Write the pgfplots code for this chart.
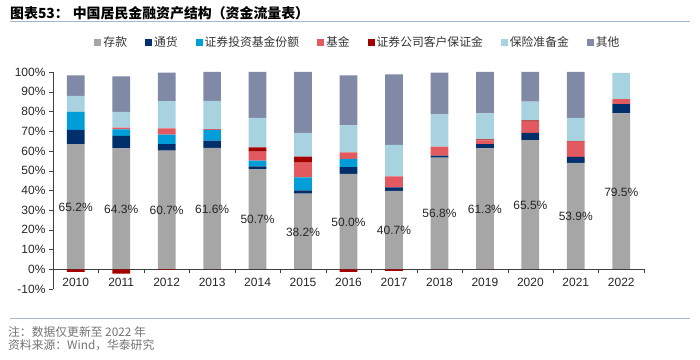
\documentclass[border=0pt]{standalone}
\usepackage{pgfplots}
\pgfplotsset{compat=1.18}
\usepackage{pgfplotstable}
\usepackage{fontspec}
\setmainfont{Liberation Sans}
\newfontfamily\cjk{Noto Sans CJK SC}
\definecolor{cdep}{RGB}{166,166,166}
\definecolor{ccur}{RGB}{0,47,108}
\definecolor{csfs}{RGB}{0,158,216}
\definecolor{cfund}{RGB}{226,90,95}
\definecolor{cmar}{RGB}{165,0,0}
\definecolor{cins}{RGB}{168,210,224}
\definecolor{coth}{RGB}{128,137,166}
\definecolor{cline}{RGB}{165,183,208}
\pgfplotstableread{
x dep cur sfs fund mar ins oth neg lab lpos
0 63.4 7.2 9.2 0 0 8.1 10.4 -1.3 65.2 31.4
1 61.3 6.3 3.3 0.9 0 8.0 18.0 -2.2 64.3 30.6
2 60.2 3.3 4.7 3.2 0 13.8 14.5 -0.3 60.7 29.9
3 61.5 3.7 5.4 0.5 0 14.3 14.6 0 61.6 30.6
4 50.8 1.3 3.0 4.6 2.1 15.0 23.2 0 50.7 25.2
5 38.3 1.7 6.6 7.5 3.0 12.1 30.8 0 38.2 18.8
6 48.4 3.4 4.2 3.2 0 13.7 25.4 -1.3 50.0 24.0
7 39.8 1.7 0 5.6 0 15.9 35.8 -0.8 40.7 19.8
8 56.6 1.0 0 4.6 0 16.3 21.2 0 56.8 28.2
9 61.3 2.1 0 1.9 0.5 13.2 21.0 0 61.3 30.6
10 65.5 3.6 0 5.7 0.7 9.5 15.0 0 65.5 32.6
11 53.9 3.1 0 7.7 0.3 11.7 23.3 0 53.9 26.9
12 79.0 4.7 0 2.5 0 13.3 0 0 79.5 39.0
}\data
\pgfplotsset{/pgf/number format/assume math mode=true}
\begin{document}
\begin{tikzpicture}[x=1pt,y=1pt]
\path[use as bounding box] (0,0) rectangle (700,359);
\node[anchor=west, inner sep=0pt, font=\cjk\bfseries\fontsize{13.9}{16}\selectfont] at (10,345.5) {图表53：\hspace{4pt}中国居民金融资产结构（资金流量表）};
\draw[cline, line width=1.2pt] (10,337.3) -- (690,337.3);
\draw[cline, line width=1.2pt] (10,40.5) -- (690,40.5);
\node[anchor=west, inner sep=0pt, text=black!55, font=\cjk\fontsize{11.8}{13}\selectfont] at (8,27.3) {注：数据仅更新至 2022 年};
\node[anchor=west, inner sep=0pt, text=black!55, font=\cjk\fontsize{11.8}{13}\selectfont] at (8,14) {资料来源：Wind，华泰研究};
\begin{axis}[
  at={(53pt,70pt)}, anchor=south west,
  scale only axis, width=591pt, height=217pt,
  ybar stacked, bar width=0.39,
  xmin=-0.5, xmax=12.5, ymin=-10, ymax=100,
  axis y line=left, axis x line=middle,
  hide obscured x ticks=false, hide obscured y ticks=false,
  axis line style={-, color=black!75},
  axis on top,
  tick align=outside,
  xtick={0,...,12},
  xticklabels={2010,2011,2012,2013,2014,2015,2016,2017,2018,2019,2020,2021,2022},
  major x tick style={draw=none},
  minor xtick={-0.5,0.5,...,12.5},
  minor tick length=4pt,
  minor x tick style={color=black!75},
  ytick={-10,0,...,100},
  major tick length=4pt,
  ytick style={color=black!75},
  yticklabel={\pgfmathprintnumber{\tick}\%},
  tick label style={font=\fontsize{12}{14}\selectfont, text=black!85},
  xticklabel style={yshift=-1pt},
  legend style={at={(axis description cs:0.516,1.138)}, anchor=center, draw=none, fill=none,
    font=\cjk\fontsize{11.8}{13}\selectfont, text=black!80,
    /tikz/every even column/.append style={column sep=16pt}},
  legend columns=-1,
  legend cell align=left,
  legend image code/.code={\fill[#1] (0pt,-3.5pt) rectangle (7pt,3.5pt);},
]
\addplot[fill=cdep, draw=none] table[x=x,y=dep]{\data};
\addlegendentry{存款}
\addplot[fill=ccur, draw=none] table[x=x,y=cur]{\data};
\addlegendentry{通货}
\addplot[fill=csfs, draw=none] table[x=x,y=sfs]{\data};
\addlegendentry{证券投资基金份额}
\addplot[fill=cfund, draw=none] table[x=x,y=fund]{\data};
\addlegendentry{基金}
\addplot[fill=cmar, draw=none] table[x=x,y=mar]{\data};
\addlegendentry{证券公司客户保证金}
\addplot[fill=cins, draw=none] table[x=x,y=ins]{\data};
\addlegendentry{保险准备金}
\addplot[fill=coth, draw=none] table[x=x,y=oth]{\data};
\addlegendentry{其他}
\end{axis}
\begin{axis}[
  at={(53pt,70pt)}, anchor=south west,
  scale only axis, width=591pt, height=217pt,
  ybar, bar width=0.39, bar shift=0pt,
  xmin=-0.5, xmax=12.5, ymin=-10, ymax=100,
  hide axis,
]
\addplot[fill=cmar, draw=none] table[x=x,y=neg]{\data};
\addplot[draw=none, fill=none, point meta=explicit,
  nodes near coords={\pgfmathprintnumber[fixed,precision=1,fixed zerofill]{\pgfplotspointmeta}\%},
  every node near coord/.style={anchor=center, font=\fontsize{12}{14}\selectfont, text=black!85}]
  table[x=x,y=lpos,meta=lab]{\data};
\end{axis}
\end{tikzpicture}
\end{document}
